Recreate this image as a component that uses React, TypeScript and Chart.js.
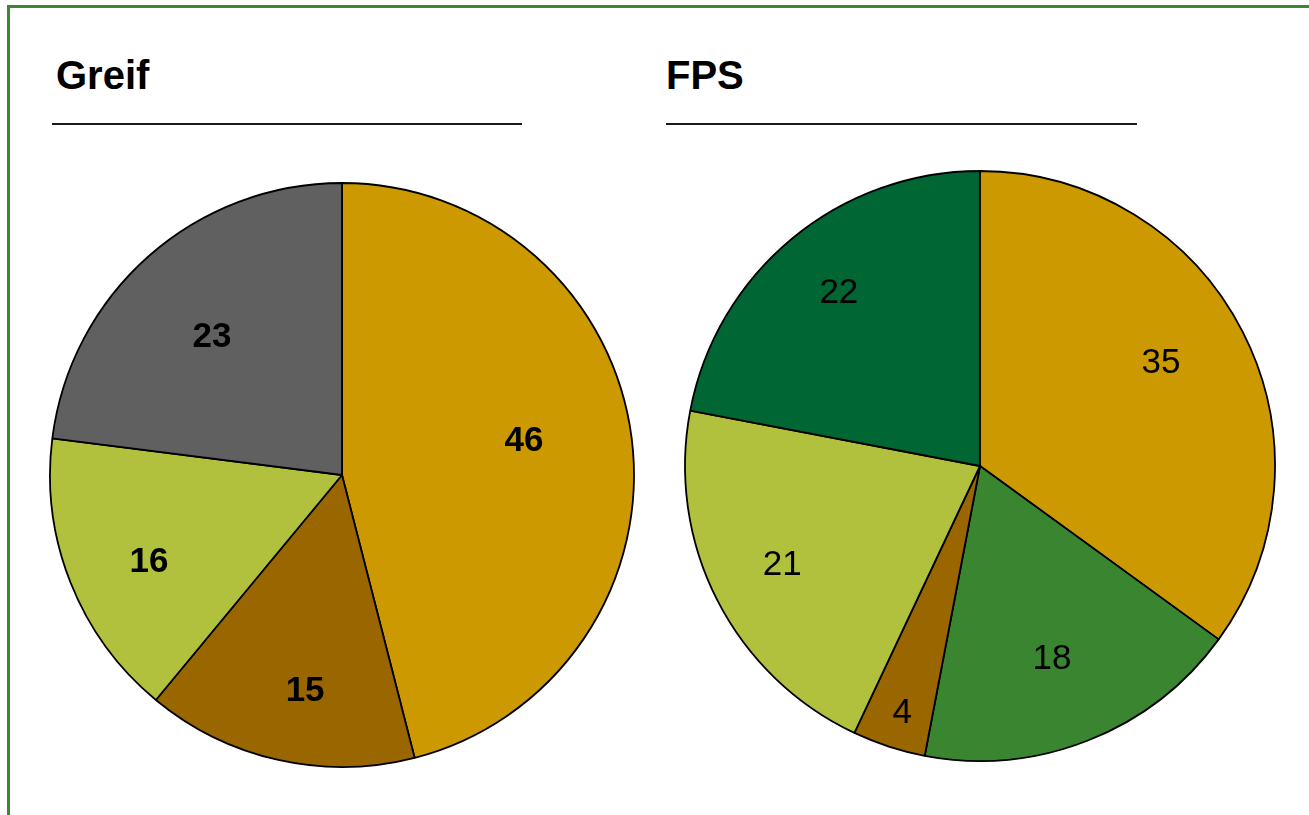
import React, { useEffect, useRef } from "react";
import { Chart, registerables } from "chart.js";

Chart.register(...registerables);

const greifLabels = ["A", "B", "C", "D"];
const greifValues = [46, 15, 16, 23];
const greifColors = ["#CC9900", "#996600", "#B1C13E", "#606060"];

const fpsLabels = ["A", "E", "B", "C", "F"];
const fpsValues = [35, 18, 4, 21, 22];
const fpsColors = ["#CC9900", "#3A8530", "#996600", "#B1C13E", "#006633"];

// label placement: fraction of radius and angular shift (degrees) from slice middle
const greifLabelRadius = [0.634, 0.75, 0.725, 0.649];
const greifLabelShift = [-3.4, -2.9, -2.7, -1.9];
const fpsLabelRadius = [0.706, 0.701, 0.878, 0.75, 0.757];
const fpsLabelShift = [-2.6, 1.2, -0.5, 0.4, 0.4];

const labelPlugin = {
  id: "sliceLabels",
  afterDatasetsDraw(chart: any, _args: any, opts: any) {
    const ctx = chart.ctx;
    const meta = chart.getDatasetMeta(0);
    const data = chart.data.datasets[0].data;
    ctx.save();
    ctx.font = `${opts.bold ? "bold " : ""}35px "Liberation Sans", Arial, sans-serif`;
    ctx.fillStyle = "#000";
    ctx.textAlign = "center";
    ctx.textBaseline = "middle";
    meta.data.forEach((arc: any, i: number) => {
      const p = arc.getProps(["x", "y", "startAngle", "endAngle", "outerRadius"], true);
      const mid = (p.startAngle + p.endAngle) / 2 + ((opts.shifts[i] ?? 0) * Math.PI) / 180;
      const r = p.outerRadius * (opts.radii[i] ?? 0.7);
      ctx.fillText(String(data[i]), p.x + Math.cos(mid) * r, p.y + Math.sin(mid) * r);
    });
    ctx.restore();
  },
};

function PieChart(props: {
  labels: string[];
  values: number[];
  colors: string[];
  radius: number;
  radii: number[];
  shifts: number[];
  bold: boolean;
  left: number;
  top: number;
}) {
  const ref = useRef<HTMLCanvasElement | null>(null);
  useEffect(() => {
    if (!ref.current) return;
    const chart = new Chart(ref.current, {
      type: "pie",
      data: {
        labels: props.labels,
        datasets: [
          {
            data: props.values,
            backgroundColor: props.colors,
            borderColor: "#000",
            borderWidth: 1.8,
          },
        ],
      },
      options: {
        animation: false,
        responsive: false,
        radius: props.radius,
        layout: { padding: 0 },
        plugins: {
          legend: { display: false },
          tooltip: { enabled: false },
          title: { display: false },
          sliceLabels: { radii: props.radii, shifts: props.shifts, bold: props.bold },
        } as any,
      } as any,
      plugins: [labelPlugin],
    });
    return () => chart.destroy();
  }, []);
  return (
    <canvas
      ref={ref}
      width={600}
      height={600}
      style={{ position: "absolute", left: props.left, top: props.top, width: 600, height: 600 }}
    />
  );
}

const titleStyle: React.CSSProperties = {
  position: "absolute",
  fontFamily: '"Liberation Sans", Arial, sans-serif',
  fontWeight: "bold",
  fontSize: 40,
  lineHeight: "40px",
  color: "#000",
  whiteSpace: "nowrap",
};

export default function App() {
  return (
    <div
      style={{
        position: "fixed",
        left: 0,
        top: 0,
        width: 1309,
        height: 815,
        background: "#fff",
        overflow: "hidden",
      }}
    >
      <div
        style={{
          position: "absolute",
          left: 7,
          top: 5,
          width: 1320,
          height: 830,
          borderTop: "3px solid #3D8634",
          borderLeft: "3px solid #3D8634",
          boxSizing: "border-box",
        }}
      />
      <div style={{ ...titleStyle, left: 56, top: 55 }}>Greif</div>
      <div style={{ ...titleStyle, left: 666, top: 55 }}>FPS</div>
      <div style={{ position: "absolute", left: 52, top: 123, width: 470, height: 2, background: "#1a1a1a" }} />
      <div style={{ position: "absolute", left: 666, top: 123, width: 471, height: 2, background: "#1a1a1a" }} />
      <PieChart
        labels={greifLabels}
        values={greifValues}
        colors={greifColors}
        radius={292}
        radii={greifLabelRadius}
        shifts={greifLabelShift}
        bold={true}
        left={42}
        top={175}
      />
      <PieChart
        labels={fpsLabels}
        values={fpsValues}
        colors={fpsColors}
        radius={295}
        radii={fpsLabelRadius}
        shifts={fpsLabelShift}
        bold={false}
        left={680}
        top={166}
      />
    </div>
  );
}
